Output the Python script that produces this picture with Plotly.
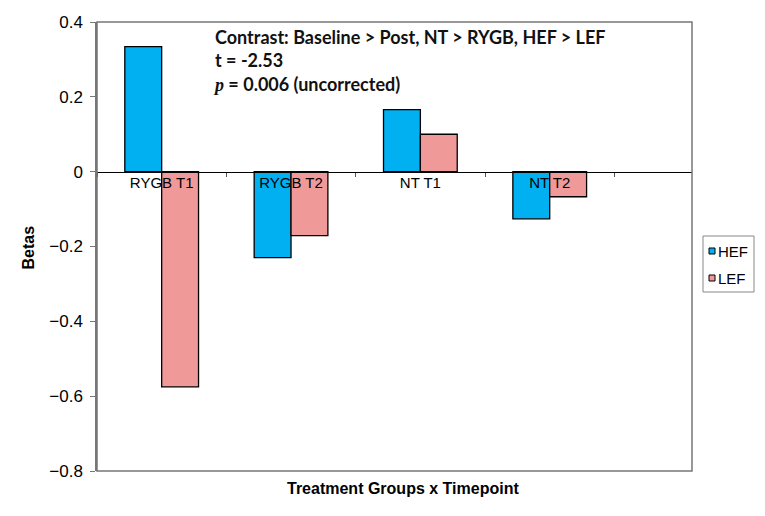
import plotly.graph_objects as go

categories = ["RYGB T1", "RYGB T2", "NT T1", "NT T2"]
series_names = ["HEF", "LEF"]
hef = [0.334, -0.230, 0.166, -0.126]
lef = [-0.575, -0.171, 0.100, -0.067]
colors = ["#00B0F0", "#F09999"]
y_min, y_max = -0.8, 0.4

OFF = 8  # page body margin
W, H = 757, 508
L, R, T, B = 89, 73, 14, 45
pw, ph = W - L - R, H - T - B


def px_x(px):
    return (px - OFF - L) / pw


def px_y(py):
    return (OFF + H - B - py) / ph


fig = go.Figure()
for name, vals, col in zip(series_names, [hef, lef], colors):
    fig.add_trace(go.Bar(x=categories, y=vals, name=name, showlegend=False,
                         marker=dict(color=col, line=dict(color="black", width=1.3))))

zero_pos = (0 - y_min) / (y_max - y_min)

fig.update_layout(
    width=W, height=H,
    margin=dict(l=L, r=R, t=T, b=B, autoexpand=False),
    paper_bgcolor="white", plot_bgcolor="white",
    barmode="group", bargap=0.43, bargroupgap=0,
    font=dict(family="Liberation Sans, Arial", size=16, color="black"),
    xaxis=dict(type="category", range=[-0.5, 4.1], anchor="free", position=zero_pos,
               showline=True, linecolor="black", linewidth=1.2,
               ticks="outside", tickson="boundaries", ticklen=4, tickcolor="#555",
               ticklabelstandoff=-3,
               tickfont=dict(size=15, color="black"), showgrid=False, zeroline=False),
    yaxis=dict(range=[y_min, y_max], dtick=0.2, showgrid=False, zeroline=False,
               showline=True, linecolor="#777", linewidth=1.5,
               ticks="outside", ticklen=5, tickcolor="#777", ticklabelstandoff=4,
               tickfont=dict(size=17, color="black")),
    showlegend=False,
)

fig.add_shape(type="rect", xref="paper", yref="paper", x0=0, y0=0, x1=1, y1=1,
              line=dict(color="#777", width=1.5), layer="above")

# axis titles
fig.add_annotation(xref="paper", yref="paper", x=px_x(403), y=px_y(488), yanchor="middle",
                   text="<b>Treatment Groups x Timepoint</b>", showarrow=False,
                   font=dict(size=16, family="Liberation Sans, Arial"))
fig.add_annotation(xref="paper", yref="paper", x=px_x(18), y=px_y(248), textangle=-90,
                   text="<b>Betas</b>", showarrow=False,
                   font=dict(size=16, family="Liberation Sans, Arial"))

# legend box
fig.add_shape(type="rect", xref="paper", yref="paper",
              x0=px_x(703), x1=px_x(754), y0=px_y(292), y1=px_y(236),
              line=dict(color="#888", width=1), fillcolor="white")
for i, (name, col) in enumerate(zip(series_names, colors)):
    cy = 251 + i * 27
    fig.add_shape(type="rect", xref="paper", yref="paper",
                  x0=px_x(709), x1=px_x(715), y0=px_y(cy + 3), y1=px_y(cy - 3),
                  line=dict(color="black", width=1), fillcolor=col)
    fig.add_annotation(xref="paper", yref="paper", x=px_x(716), y=px_y(cy),
                       xanchor="left", yanchor="middle", showarrow=False,
                       text=name, font=dict(size=15, family="Liberation Sans, Arial"))

fig.add_annotation(xref="paper", yref="paper", x=px_x(211), y=px_y(24), xanchor="left", yanchor="top",
                   align="left", showarrow=False,
                   text="<b>Contrast: Baseline &gt; Post, NT &gt; RYGB, HEF &gt; LEF<br>t = -2.53<br>"
                        "<i><span style='font-family:Liberation Serif'>p</span></i> = 0.006 (uncorrected)</b>",
                   font=dict(size=18, family="Lato", color="#111"))

fig.write_html("out.html")
